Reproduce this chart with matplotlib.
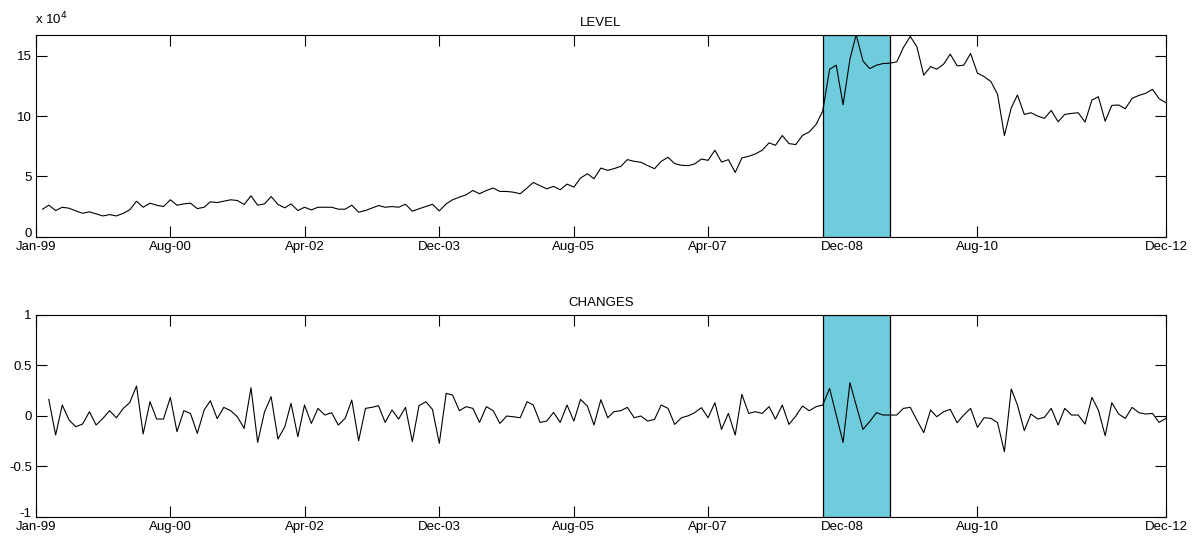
import numpy as np
import pandas as pd
import matplotlib
matplotlib.use('Agg')
import matplotlib.pyplot as plt
import matplotlib.dates as mdates

# monthly data, Jan-99 .. Dec-12 (end of month)
dates = pd.date_range('1999-01-31', periods=168, freq='ME')

# LEVEL, in units of 10^4
level = [2.28, 2.61, 2.17, 2.44, 2.36, 2.14, 1.94, 2.06, 1.89, 1.72,
         1.83, 1.72, 1.94, 2.22, 2.94, 2.44, 2.78, 2.61, 2.50, 3.06,
         2.61, 2.72, 2.78, 2.33, 2.44, 2.89, 2.83, 2.94, 3.06, 3.00,
         2.67, 3.39, 2.61, 2.72, 3.33, 2.67, 2.39, 2.72, 2.17, 2.44,
         2.22, 2.44, 2.44, 2.44, 2.28, 2.28, 2.61, 2.03, 2.17, 2.36,
         2.58, 2.44, 2.50, 2.44, 2.69, 2.11, 2.31, 2.50, 2.69, 2.14,
         2.72, 3.06, 3.28, 3.47, 3.83, 3.56, 3.83, 4.03, 3.75, 3.75,
         3.69, 3.56, 4.03, 4.50, 4.22, 3.97, 4.17, 3.89, 4.36, 4.11,
         4.86, 5.22, 4.81, 5.69, 5.50, 5.64, 5.83, 6.39, 6.25, 6.17,
         5.89, 5.64, 6.25, 6.58, 6.06, 5.92, 5.89, 6.03, 6.44, 6.33,
         7.17, 6.19, 6.39, 5.33, 6.53, 6.67, 6.86, 7.17, 7.78, 7.58,
         8.39, 7.72, 7.64, 8.39, 8.69, 9.31, 10.42, 13.89, 14.22, 10.94,
         14.72, 16.75, 14.58, 13.94, 14.22, 14.36, 14.39, 14.50, 15.69, 16.61,
         15.75, 13.39, 14.11, 13.89, 14.31, 15.14, 14.17, 14.22, 15.19, 13.56,
         13.28, 12.86, 11.81, 8.39, 10.69, 11.75, 10.14, 10.28, 10.00, 9.81,
         10.47, 9.53, 10.14, 10.22, 10.28, 9.50, 11.33, 11.61, 9.58, 10.89,
         10.92, 10.61, 11.47, 11.72, 11.89, 12.22, 11.44, 11.11]

# CHANGES, Feb-99 .. Dec-12
changes = [0.163, -0.190, 0.107, -0.042, -0.108, -0.081, 0.041, -0.091, -0.025,
           0.051, -0.019, 0.074, 0.130, 0.296, -0.180, 0.140, -0.032, -0.032, 0.183,
           -0.157, 0.051, 0.024, -0.174, 0.058, 0.150, -0.028, 0.084, 0.051, -0.009,
           -0.124, 0.279, -0.263, 0.038, 0.190, -0.230, -0.108, 0.124, -0.207, 0.107,
           -0.075, 0.074, 0.008, 0.031, -0.091, -0.025, 0.157, -0.247, 0.074, 0.084,
           0.100, -0.065, 0.058, -0.032, 0.084, -0.257, 0.100, 0.140, 0.064, -0.273,
           0.223, 0.206, 0.051, 0.091, 0.074, -0.065, 0.091, 0.051, -0.075, -0.002,
           -0.009, -0.019, 0.140, 0.107, -0.065, -0.052, 0.034, -0.065, 0.107, -0.052,
           0.163, 0.097, -0.091, 0.160, -0.019, 0.041, 0.051, 0.084, -0.019, -0.002,
           -0.052, -0.035, 0.107, 0.074, -0.085, -0.019, 0.001, 0.031, 0.081, -0.019,
           0.130, -0.134, 0.024, -0.190, 0.213, 0.024, 0.041, 0.024, 0.091, -0.032,
           0.107, -0.085, -0.002, 0.097, 0.051, 0.091, 0.107, 0.272, 0.008, -0.263,
           0.329, 0.107, -0.134, -0.058, 0.031, 0.008, 0.008, 0.008, 0.074, 0.084,
           -0.042, -0.167, 0.058, -0.009, 0.041, 0.064, -0.068, 0.008, 0.074, -0.114,
           -0.019, -0.025, -0.068, -0.356, 0.266, 0.107, -0.147, 0.018, -0.032, -0.015,
           0.074, -0.091, 0.074, 0.008, 0.008, -0.081, 0.183, 0.058, -0.197, 0.130,
           0.018, -0.025, 0.084, 0.031, 0.018, 0.024, -0.065, -0.025]

tick_labels = ['Jan-99', 'Aug-00', 'Apr-02', 'Dec-03', 'Aug-05',
               'Apr-07', 'Dec-08', 'Aug-10', 'Dec-12']

# shaded period (Sep-08 .. Jul-09)
shade_start = '2008-09-30'
shade_end = '2009-07-31'

plt.rcParams['font.family'] = ['Liberation Sans', 'DejaVu Sans']
plt.rcParams['font.size'] = 9.5

fig = plt.figure(figsize=(11.95, 5.39), dpi=100)
ax1 = fig.add_axes([0.0301, 0.5609, 0.9456, 0.3747])
ax2 = fig.add_axes([0.0301, 0.0414, 0.9456, 0.3742])

x0 = mdates.date2num(pd.Timestamp('1999-01-01'))
x1 = mdates.date2num(pd.Timestamp('2012-12-31'))
xt = [x0 + k * (x1 - x0) * 0.119 for k in range(8)] + [x1]

for ax, y, title in [(ax1, level, 'LEVEL'), (ax2, changes, 'CHANGES')]:
    d = dates if ax is ax1 else dates[1:]
    ax.axvspan(pd.Timestamp(shade_start), pd.Timestamp(shade_end),
               facecolor='#6ECCDC', edgecolor='black', lw=0.9, zorder=3)
    ax.plot(d, y, color='black', lw=0.8, zorder=4)
    ax.set_xlim(x0, x1)
    ax.set_xticks(xt)
    ax.set_xticklabels(tick_labels)
    ax.set_title(title, fontsize=9.5, pad=6.5)
    ax.tick_params(direction='in', length=8, width=0.8, top=True, right=True,
                   labelsize=9.5, pad=3)
    ax.tick_params(axis='x', pad=3)
    for s in ax.spines.values():
        s.set_linewidth(0.8)

ax1.set_ylim(0, max(level))
ax1.set_yticks([0, 5, 10, 15])
ax1.set_yticklabels(['0', '5', '10', '15'])
ax1.text(-0.001, 1.035, r'x 10$^{4}$', transform=ax1.transAxes,
         fontsize=9.5, ha='left', va='bottom')

ax2.set_ylim(-1, 1)
ax2.set_yticks([-1, -0.5, 0, 0.5, 1])
ax2.set_yticklabels(['-1', '-0.5', '0', '0.5', '1'])

# lift the lowest y labels a little so they clear the first date label
for ax in (ax1, ax2):
    ax.get_yticklabels()[0].set_va('baseline')

fig.savefig('out.png', dpi=100)
